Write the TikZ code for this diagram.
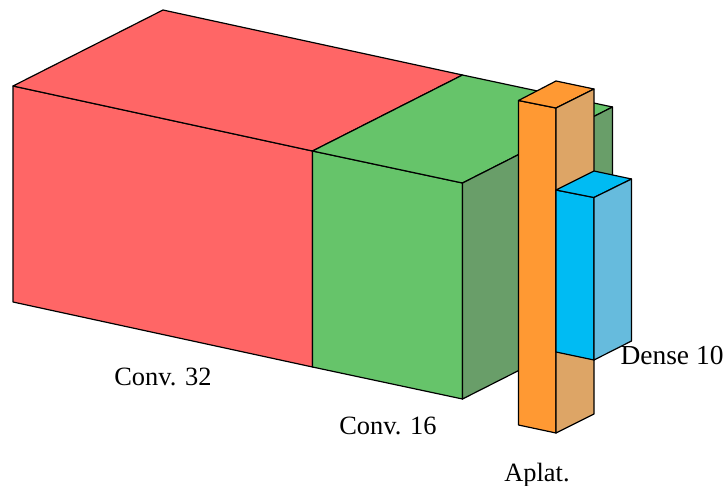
\documentclass[tikz,border=0pt]{standalone}
\usepackage{fontspec}
\setmainfont{Liberation Serif}
\tikzset{
  face/.style={draw=black,line width=0.9pt,line join=round},
  lbl/.style={font=\fontsize{19.8}{22}\selectfont,inner sep=0pt,text=black,anchor=base},
  lblwide/.style={lbl,font=\fontsize{20.6}{22}\selectfont},
}
\definecolor{redf}{HTML}{FF6666}
\definecolor{greenf}{HTML}{66C46A}
\definecolor{greens}{HTML}{699E69}
\definecolor{orangef}{HTML}{FF9933}
\definecolor{oranges}{HTML}{DDA566}
\definecolor{bluef}{HTML}{00BBF3}
\definecolor{blues}{HTML}{66BBDD}
\begin{document}
\begin{tikzpicture}[x=0.75pt,y=-0.75pt]
\useasboundingbox (0,0) rectangle (726,486);
% red block
\draw[face,fill=redf] (13,86) -- (312.5,151) -- (312.5,367) -- (13,302) -- cycle;
\draw[face,fill=redf] (13,86) -- (163,10) -- (462.5,75) -- (312.5,151) -- cycle;
% green block
\draw[face,fill=greenf] (312.5,151) -- (462.5,183) -- (462.5,399) -- (312.5,367) -- cycle;
\draw[face,fill=greenf] (312.5,151) -- (462.5,75) -- (612.5,107) -- (462.5,183) -- cycle;
\draw[face,fill=greens] (462.5,183) -- (612.5,107) -- (612.5,323) -- (462.5,399) -- cycle;
% orange block
\draw[face,fill=orangef] (518.5,100.5) -- (556,108) -- (556,433) -- (518.5,425) -- cycle;
\draw[face,fill=orangef] (518.5,100.5) -- (556,81) -- (594,89) -- (556,108) -- cycle;
\draw[face,fill=oranges] (556,108) -- (594,89) -- (594,414) -- (556,433) -- cycle;
% blue block
\draw[face,fill=bluef] (556,190) -- (594,197.5) -- (594,360) -- (556,352) -- cycle;
\draw[face,fill=bluef] (556,190) -- (594,171) -- (631.5,179) -- (594,197.5) -- cycle;
\draw[face,fill=blues] (594,197.5) -- (631.5,179) -- (631.5,341) -- (594,360) -- cycle;
% labels
\node[lbl] (c32) at (163,385.5) {Conv. 32};
\node[lbl] (c16) at (388,434.5) {Conv. 16};
\node[lbl] (apl) at (537,481.5) {Aplat.};
\node[lblwide] (den) at (672,364.5) {Dense 10};
\end{tikzpicture}
\end{document}
